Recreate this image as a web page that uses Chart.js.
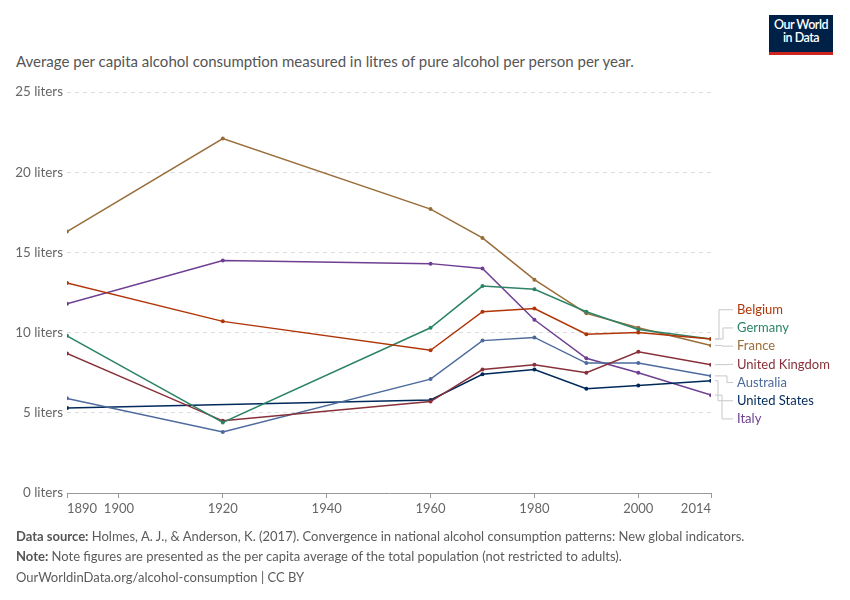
<!DOCTYPE html>
<html>
<head>
<meta charset="utf-8">
<script src="https://cdn.jsdelivr.net/npm/chart.js@4.4.1/dist/chart.umd.min.js"></script>
<style>
  html, body { margin: 0; padding: 0; background: #fff; }
  body { width: 850px; height: 600px; position: relative; overflow: hidden; font-family: Lato, "Open Sans", sans-serif; }
  #wrap { position: absolute; left: 0; top: 0; width: 850px; height: 600px; }
  .subtitle { position: absolute; left: 16px; top: 52px; font-size: 15px; color: #555; white-space: nowrap; }
  .logo { position: absolute; left: 769px; top: 15px; width: 64px; height: 34px; background: #002147; border-bottom: 3px solid #ce261e;
          color: #fff; font-size: 12.5px; line-height: 13px; text-align: center; font-weight: 600; letter-spacing: -0.5px; padding-top: 3px; box-sizing: content-box; }
  .foot { position: absolute; left: 16px; font-size: 13px; color: #5b5b5b; white-space: nowrap; }
  .foot b { font-weight: 700; color: #555; }
</style>
</head>
<body>
<div class="subtitle">Average per capita alcohol consumption measured in litres of pure alcohol per person per year.</div>
<div class="logo">Our World<br>in Data</div>
<div id="wrap"><canvas id="chart" width="850" height="600"></canvas></div>
<div class="foot" style="top:528px"><b>Data source:</b> Holmes, A. J., &amp; Anderson, K. (2017). Convergence in national alcohol consumption patterns: New global indicators.</div>
<div class="foot" style="top:548px"><b>Note:</b> Note figures are presented as the per capita average of the total population (not restricted to adults).</div>
<div class="foot" style="top:569px">OurWorldinData.org/alcohol-consumption | CC BY</div>

<script>
const years = [1890, 1920, 1960, 1970, 1980, 1990, 2000, 2014];
const xTicks = [1890, 1900, 1920, 1940, 1960, 1980, 2000, 2014];
const yTicks = [0, 5, 10, 15, 20, 25];

const belgium   = [13.1, 10.7, 8.9, 11.3, 11.5, 9.9, 10.0, 9.6];
const germany   = [9.8, 4.4, 10.3, 12.9, 12.7, 11.3, 10.2, 9.6];
const france    = [16.3, 22.1, 17.7, 15.9, 13.3, 11.2, 10.3, 9.2];
const uk        = [8.7, 4.5, 5.7, 7.7, 8.0, 7.5, 8.8, 8.0];
const australia = [5.9, 3.8, 7.1, 9.5, 9.7, 8.1, 8.1, 7.3];
const usa       = [5.3, null, 5.8, 7.4, 7.7, 6.5, 6.7, 7.0];
const italy     = [11.8, 14.5, 14.3, 14.0, 10.8, 8.4, 7.5, 6.1];

const countries = ['Belgium', 'Germany', 'France', 'United Kingdom', 'Australia', 'United States', 'Italy'];
const seriesList = [belgium, germany, france, uk, australia, usa, italy];
const colors = ['#b13507', '#2c8465', '#996d39', '#883039', '#4c6a9c', '#00295b', '#6d3e91'];

function toPoints(vals) {
  return years.map((y, i) => ({ x: y, y: vals[i] }));
}

const datasets = countries.map((name, i) => ({
  label: name,
  data: toPoints(seriesList[i]),
  borderColor: colors[i],
  backgroundColor: colors[i],
  borderWidth: 1.5,
  pointRadius: 2,
  pointBorderWidth: 0,
  spanGaps: true,
  tension: 0
}));

// labels at the right end of each line, with elbow connectors
const endLabels = {
  id: 'endLabels',
  afterDatasetsDraw(chart) {
    const ctx = chart.ctx;
    const xs = chart.scales.x, ys = chart.scales.y;
    const gap = 18.2;
    const items = countries.map((name, i) => {
      const vals = seriesList[i];
      const last = vals[vals.length - 1];
      return { name, color: colors[i], target: ys.getPixelForValue(last), end: ys.getPixelForValue(last) };
    });
    // spread out overlapping labels, keep the group centred on its targets
    const pos = items.map(it => it.target);
    for (let k = 1; k < pos.length; k++) {
      if (pos[k] - pos[k - 1] < gap) pos[k] = pos[k - 1] + gap;
    }
    const meanT = items.reduce((s, it) => s + it.target, 0) / items.length;
    const meanP = pos.reduce((s, p) => s + p, 0) / pos.length;
    const shift = meanT - meanP + 1.5;
    const xEnd = xs.getPixelForValue(years[years.length - 1]);
    const mids = [719, 723, 722, 727, 727, 718, 722];
    ctx.save();
    ctx.font = '13px Lato, sans-serif';
    ctx.textBaseline = 'middle';
    items.forEach((it, k) => {
      const ly = pos[k] + shift;
      const xm = mids[k];
      ctx.strokeStyle = '#c8c8c8';
      ctx.lineWidth = 1;
      ctx.beginPath();
      ctx.moveTo(xEnd + 4, it.end);
      ctx.lineTo(xm, it.end);
      ctx.lineTo(xm, ly);
      ctx.lineTo(xEnd + 22, ly);
      ctx.stroke();
      ctx.fillStyle = it.color;
      ctx.fillText(it.name, xEnd + 26, ly);
    });
    ctx.restore();
  }
};

new Chart(document.getElementById('chart').getContext('2d'), {
  type: 'line',
  data: { datasets },
  options: {
    responsive: false,
    animation: false,
    layout: { padding: { left: 10, top: 92, right: 139, bottom: 83 } },
    plugins: {
      legend: { display: false },
      tooltip: { enabled: false }
    },
    scales: {
      x: {
        type: 'linear',
        min: 1890,
        max: 2014,
        afterBuildTicks: axis => { axis.ticks = xTicks.map(v => ({ value: v })); },
        afterFit: axis => { axis.height = 24; },
        ticks: {
          color: '#666',
          font: { family: 'Lato', size: 13 },
          padding: 3,
          align: 'inner',
          maxRotation: 0,
          autoSkip: false,
          callback: v => String(v)
        },
        grid: { display: true, drawOnChartArea: false, drawTicks: true, tickLength: 5, color: '#999' },
        border: { display: true, color: '#999' }
      },
      y: {
        min: 0,
        max: 25,
        afterBuildTicks: axis => { axis.ticks = yTicks.map(v => ({ value: v })); },
        afterFit: axis => { axis.width = 57; },
        ticks: {
          color: '#666',
          font: { family: 'Lato', size: 13.4 },
          padding: 4,
          callback: v => v + ' liters'
        },
        grid: {
          color: ctx => ctx.tick && ctx.tick.value === 0 ? 'rgba(0,0,0,0)' : '#dddddd',
          drawTicks: false
        },
        border: { display: false, dash: [4, 4] }
      }
    }
  },
  plugins: [endLabels]
});
</script>
</body>
</html>
